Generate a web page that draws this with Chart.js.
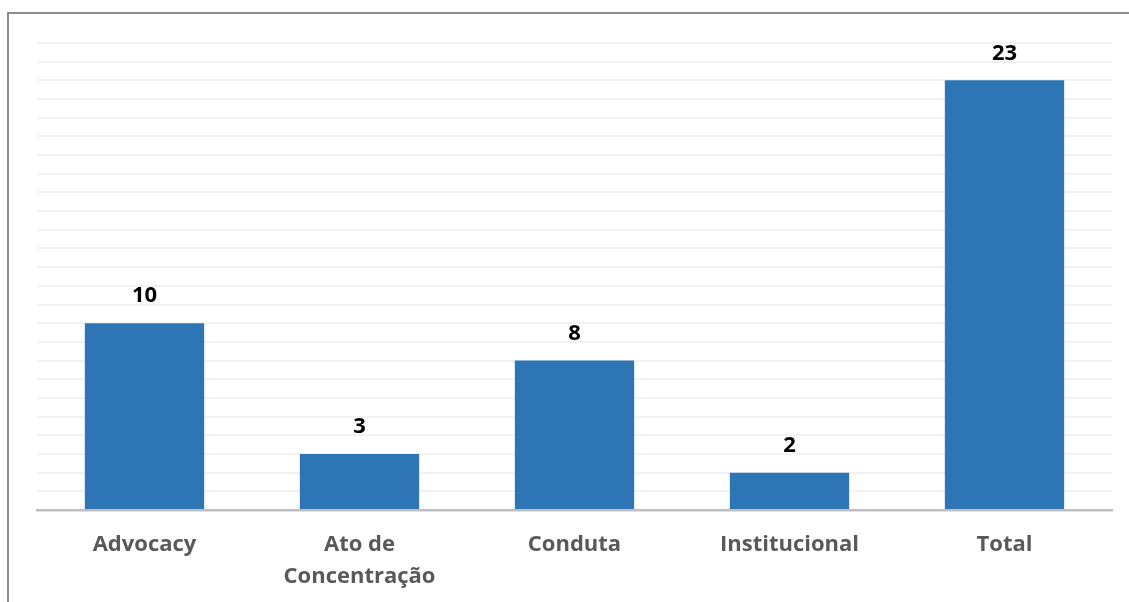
<!DOCTYPE html>
<html>
<head>
<meta charset="utf-8">
<script src="https://cdn.jsdelivr.net/npm/chart.js@4"></script>
<style>
  html, body { margin: 0; padding: 0; background: #fff; }
  #wrap { position: relative; width: 1129px; height: 602px; }
  #frame { position: absolute; left: 7px; top: 12px; right: 0; bottom: 0;
           border-left: 2px solid #8c8c8c; border-top: 2px solid #8c8c8c; }
  canvas { position: absolute; left: 0; top: 0; }
</style>
</head>
<body>
<div id="wrap">
  <div id="frame"></div>
  <canvas id="myChart" width="1129" height="602"></canvas>
</div>
<script>
var categories = ['Advocacy', ['Ato de', 'Concentração'], 'Conduta', 'Institucional', 'Total'];
var values = [10, 3, 8, 2, 23];

// draws the numbers above each bar
var valueLabels = {
  id: 'valueLabels',
  afterDatasetsDraw: function (chart) {
    var ctx = chart.ctx;
    var meta = chart.getDatasetMeta(0);
    ctx.save();
    ctx.font = 'bold 22px "Open Sans"';
    ctx.fillStyle = '#000000';
    ctx.textAlign = 'center';
    ctx.textBaseline = 'middle';
    meta.data.forEach(function (bar, i) {
      ctx.fillText(values[i], bar.x, bar.y - 27);
    });
    ctx.restore();
  }
};

var data = {
  labels: categories,
  datasets: [{
    data: values,
    backgroundColor: '#2E75B6',
    borderWidth: 0,
    categoryPercentage: 1,
    barPercentage: 0.555
  }]
};

var config = {
  type: 'bar',
  data: data,
  options: {
    responsive: false,
    animation: false,
    layout: { padding: { left: 37, right: 17, top: 43, bottom: 0 } },
    plugins: { legend: { display: false }, tooltip: { enabled: false } },
    scales: {
      x: {
        grid: { display: false, drawTicks: false },
        border: { color: '#BFBFBF', width: 2.5 },
        ticks: {
          color: '#595959',
          font: { family: 'Open Sans', weight: 'bold', size: 22, lineHeight: 1.45 },
          padding: 19,
          maxRotation: 0
        },
        afterFit: function (s) { s.height = 92; }
      },
      y: {
        min: 0,
        max: 25,
        ticks: { display: false, stepSize: 1 },
        grid: { color: '#F2F2F2', lineWidth: 2, drawTicks: false },
        border: { display: false },
        afterFit: function (s) { s.width = 0; }
      }
    }
  },
  plugins: [valueLabels]
};

var myChart = new Chart(document.getElementById('myChart'), config);
</script>
</body>
</html>
